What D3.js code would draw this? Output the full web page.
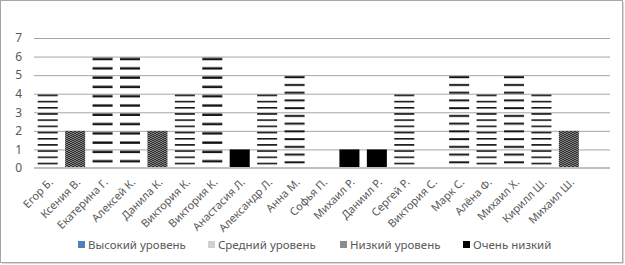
<!DOCTYPE html>
<html>
<head>
<meta charset="utf-8">
<script src="https://d3js.org/d3.v7.min.js"></script>
<style>
  body { margin: 0; background: #fff; }
  text { font-family: "Noto Sans", "Open Sans", sans-serif; fill: #595959; }
</style>
</head>
<body>
<svg id="drawing_region"></svg>
<script>
// students (last slot is empty in the original sheet)
const names = ["Егор Б.", "Ксения В.", "Екатерина Г.", "Алексей К.", "Данила К.", "Виктория К.", "Виктория К.",
               "Анастасия Л.", "Александр Л.", "Анна М.", "Софья П.", "Михаил Р.", "Даниил Р.", "Сергей Р.",
               "Виктория С.", "Марк С.", "Алёна Ф.", "Михаил Х.", "Кирилл Ш.", "Михаил Ш.", ""];

const high    = [0, 0, 6, 6, 0, 0, 6, 0, 0, 5, 0, 0, 0, 0, 0, 5, 0, 5, 0, 0, 0];
const medium  = [4, 0, 0, 0, 0, 4, 0, 0, 4, 0, 0, 0, 0, 4, 0, 0, 4, 0, 4, 0, 0];
const low     = [0, 2, 0, 0, 2, 0, 0, 0, 0, 0, 0, 0, 0, 0, 0, 0, 0, 0, 0, 2, 0];
const veryLow = [0, 0, 0, 0, 0, 0, 0, 1, 0, 0, 0, 1, 1, 0, 0, 0, 0, 0, 0, 0, 0];

const seriesNames = ["Высокий уровень", "Средний уровень", "Низкий уровень", "Очень низкий"];
const seriesKeys = ["high", "medium", "low", "veryLow"];
const yTicks = [0, 1, 2, 3, 4, 5, 6, 7];

const legendColors = ["#4f81bd", "#d0d0d0", "#8c8c8c", "#000000"];
const barFills = ["url(#dash)", "url(#dash)", "url(#zigzag)", "#000000"];

class StackedColumns {
    constructor( config, data ){
        this.config = {
            parent: config.parent,
            width: config.width,
            height: config.height,
            margin: config.margin
        };
        this.data = data;
        this.init();
    }

    init(){
        let self = this;

        self.svg = d3.select( self.config.parent )
                     .attr('width', self.config.width)
                     .attr('height', self.config.height);

        // chart frame
        self.svg.append('rect')
            .attr('x', 0.5).attr('y', 0.5)
            .attr('width', self.config.width - 3)
            .attr('height', self.config.height - 3)
            .attr('fill', '#fff')
            .attr('stroke', '#a6a6a6');
        self.svg.append('path')
            .attr('d', `M${self.config.width - 1.5},2 V${self.config.height - 1.5} H2`)
            .attr('fill', 'none')
            .attr('stroke', '#d9d9d9');

        const defs = self.svg.append('defs');

        // stretched horizontal dashes, 12 per bar
        const dash = defs.append('pattern')
            .attr('id', 'dash')
            .attr('patternUnits', 'objectBoundingBox')
            .attr('patternContentUnits', 'objectBoundingBox')
            .attr('width', 1).attr('height', 1 / 12);
        dash.append('rect')
            .attr('x', 0).attr('y', 0.012)
            .attr('width', 1).attr('height', 0.021)
            .attr('fill', '#111');

        const zz = defs.append('pattern')
            .attr('id', 'zigzag')
            .attr('patternUnits', 'userSpaceOnUse')
            .attr('width', 4).attr('height', 4);
        zz.append('rect').attr('width', 4).attr('height', 4).attr('fill', '#fff');
        zz.append('path')
            .attr('d', 'M-1,3 L1,1 L3,3 L5,1 M-1,5 L1,3 L3,5 L5,3 M-1,1 L1,-1 L3,1 L5,-1')
            .attr('fill', 'none')
            .attr('stroke', '#2b2b2b')
            .attr('stroke-width', 1.1);

        self.chart = self.svg.append('g')
            .attr('transform', `translate(${self.config.margin.left}, ${self.config.margin.top})`);

        self.inner_width = self.config.width - self.config.margin.left - self.config.margin.right;
        self.inner_height = self.config.height - self.config.margin.top - self.config.margin.bottom;

        self.xscale = d3.scaleBand()
            .domain( d3.range(names.length) )
            .range( [0, self.inner_width] )
            .paddingInner(0.27)
            .paddingOuter(0.135);

        self.yscale = d3.scaleLinear()
            .domain( [0, 7] )
            .range( [self.inner_height, 0] );
    }

    update(){
        let self = this;
        self.stacked = d3.stack().keys( seriesKeys )( self.data );
        self.render();
    }

    render(){
        let self = this;

        // gridlines
        const yaxis = d3.axisLeft( self.yscale )
            .tickValues( yTicks )
            .tickSize( -self.inner_width )
            .tickPadding( 12 )
            .tickFormat( d3.format('d') );

        const yg = self.chart.append('g').call( yaxis );
        yg.select('.domain').remove();
        yg.selectAll('.tick line')
            .attr('stroke', '#a6a6a6')
            .attr('stroke-width', 1);
        yg.selectAll('.tick text')
            .attr('font-size', '12px')
            .attr('fill', '#595959');

        // bars
        self.chart.selectAll('.series')
            .data( self.stacked )
            .join('g')
            .attr('class', 'series')
            .attr('fill', (d, i) => barFills[i])
            .selectAll('rect')
            .data( d => d.filter(p => p[1] - p[0] > 0) )
            .join('rect')
            .attr('x', d => self.xscale( d.data.idx ))
            .attr('y', d => self.yscale( d[1] ))
            .attr('width', self.xscale.bandwidth())
            .attr('height', d => self.yscale( d[0] ) - self.yscale( d[1] ));

        // category axis line
        self.chart.append('line')
            .attr('x1', 0).attr('x2', self.inner_width)
            .attr('y1', self.yscale(0)).attr('y2', self.yscale(0))
            .attr('stroke', '#bfbfbf')
            .attr('stroke-width', 2);

        // rotated category labels
        self.chart.append('g')
            .selectAll('text')
            .data( names )
            .join('text')
            .attr('transform', (d, i) => `translate(${self.xscale(i) + self.xscale.bandwidth() / 2 + 6}, ${self.inner_height + 15}) rotate(-45)`)
            .attr('text-anchor', 'end')
            .attr('font-size', '11px')
            .text( d => d );

        // legend
        const legendX = [78, 208, 340, 463];
        const legend = self.svg.append('g')
            .selectAll('g')
            .data( seriesNames )
            .join('g')
            .attr('transform', (d, i) => `translate(${legendX[i]}, 241)`);
        legend.append('rect')
            .attr('width', 7).attr('height', 7)
            .attr('fill', (d, i) => legendColors[i]);
        legend.append('text')
            .attr('x', 10).attr('y', 7.5)
            .attr('font-size', '11.5px')
            .text( d => d );
    }
}

const data = names.map( (n, i) => ({
    idx: i, name: n,
    high: high[i], medium: medium[i], low: low[i], veryLow: veryLow[i]
}));

const config = {
    parent: '#drawing_region',
    width: 625,
    height: 265,
    margin: {top: 38, right: 15, bottom: 97, left: 34}
};

const chart = new StackedColumns( config, data );
chart.update();
</script>
</body>
</html>
